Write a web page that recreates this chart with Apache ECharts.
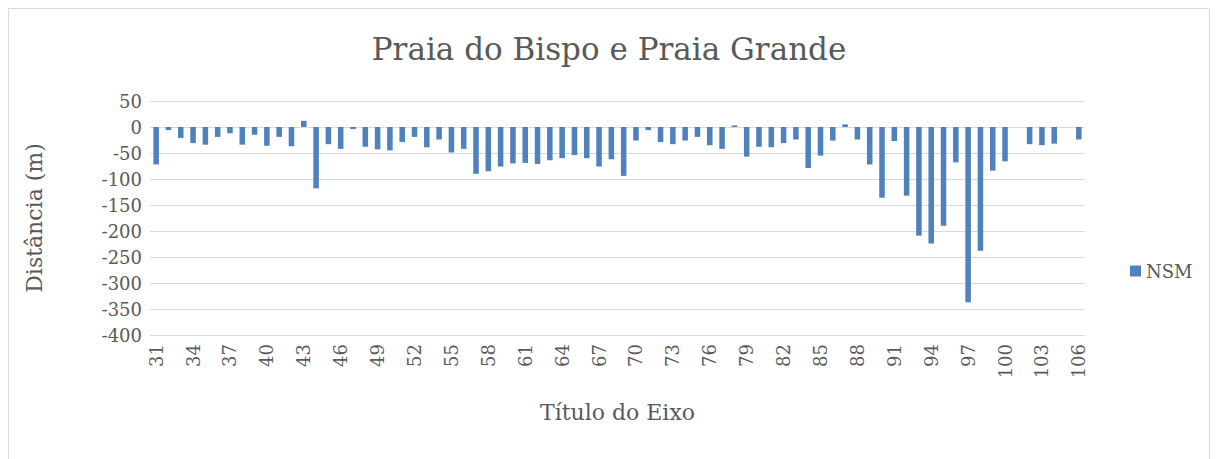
<!DOCTYPE html>
<html>
<head>
<meta charset="utf-8">
<script src="https://cdn.jsdelivr.net/npm/echarts@6/dist/echarts.min.js"></script>
<style>
  html, body { margin: 0; padding: 0; background: #fff; }
  #container_bar { width: 1218px; height: 459px; }
</style>
</head>
<body>
<div id="container_bar"></div>
<script>
// perfis 31..106
const categories = [];
for (let i = 31; i <= 106; i++) categories.push(String(i));

const nsmValues = [
    -72, -6, -21, -31, -34, -19, -12, -34, -15, -36,   // 31-40
    -19, -37, 12, -118, -33, -42, -4, -38, -43, -45,   // 41-50
    -29, -19, -39, -24, -49, -42, -90, -85, -76, -70,  // 51-60
    -69, -71, -64, -60, -54, -60, -76, -62, -94, -26,  // 61-70
    -6, -29, -33, -26, -19, -35, -42, 3, -57, -38,     // 71-80
    -39, -31, -24, -79, -55, -26, 5, -24, -72, -136,   // 81-90
    -27, -132, -209, -224, -190, -68, -337, -238, -84, -66, // 91-100
    null, -33, -35, -32, null, -24                     // 101-106
];

function drawBarChart() {
    const myChart = echarts.init(document.getElementById('container_bar'), null, {
        renderer: 'svg'
    });
    const txt = '#595959';
    const font = '"DejaVu Serif", "Liberation Serif", serif';
    const option = {
        backgroundColor: '#fff',
        animation: false,
        graphic: [{
            type: 'rect',
            shape: { x: 8.5, y: 8.5, width: 1201, height: 470 },
            style: { fill: 'none', stroke: '#d9d9d9', lineWidth: 1 }
        }],
        title: {
            text: 'Praia do Bispo e Praia Grande',
            left: 'center',
            top: 28,
            textStyle: { color: txt, fontFamily: font, fontSize: 31, fontWeight: 'normal' }
        },
        legend: {
            data: ['NSM'],
            left: 1125,
            top: 257,
            itemWidth: 11,
            itemHeight: 11,
            icon: 'rect',
            textStyle: { color: txt, fontFamily: font, fontSize: 18 }
        },
        grid: {
            left: 150,
            right: 133,
            top: 101,
            bottom: 124,
            containLabel: false
        },
        xAxis: {
            type: 'category',
            data: categories,
            name: 'Título do Eixo',
            nameLocation: 'middle',
            nameGap: 66,
            nameTextStyle: { color: txt, fontFamily: font, fontSize: 22 },
            axisLine: { show: false, onZero: false },
            axisTick: { show: false },
            axisLabel: {
                interval: 2,
                rotate: 90,
                margin: 9,
                color: txt,
                fontFamily: font,
                fontSize: 18
            }
        },
        yAxis: {
            type: 'value',
            min: -400,
            max: 50,
            interval: 50,
            name: 'Distância (m)',
            nameLocation: 'middle',
            nameGap: 105,
            nameTextStyle: { color: txt, fontFamily: font, fontSize: 22 },
            axisLine: { show: false },
            axisTick: { show: false },
            axisLabel: { color: txt, fontFamily: font, fontSize: 18, margin: 8 },
            splitLine: { lineStyle: { color: '#d9d9d9', width: 1 } }
        },
        series: [{
            name: 'NSM',
            type: 'bar',
            data: nsmValues,
            barWidth: '45%',
            itemStyle: { color: '#4f81bd' }
        }]
    };
    myChart.setOption(option);
}

drawBarChart();
</script>
</body>
</html>
